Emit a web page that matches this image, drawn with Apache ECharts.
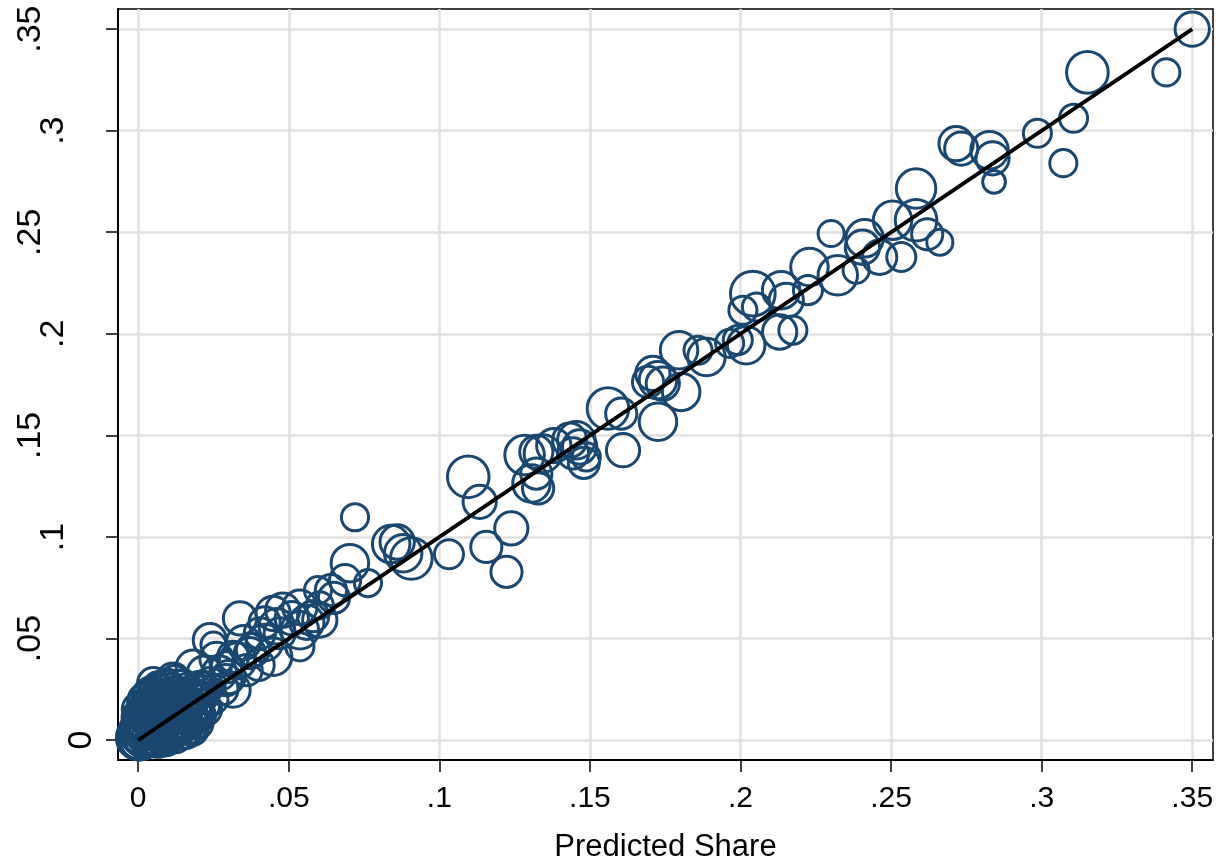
<!DOCTYPE html>
<html><head><meta charset="utf-8">
<script src="https://cdn.jsdelivr.net/npm/echarts@6/dist/echarts.min.js"></script>
<style>html,body{margin:0;padding:0;background:#fff}#c{width:1219px;height:860px}</style>
</head><body><div id="c"></div>
<script>
// Predicted share (x), actual share (y), weight (marker area)
const predicted = [
0.350,0.3152,0.3414,0.3106,0.2986,0.3072,0.2716,0.2733,0.2827,0.2837,0.2842,
0.2583,0.2301,0.2505,0.2583,0.2412,0.2405,0.2462,0.2534,0.2662,0.2620,0.2384,0.2323,0.2229,0.2224,
0.2041,0.2135,0.2152,0.2008,0.2174,0.2130,0.2019,0.1991,0.1887,0.1964,0.2053,
0.1096,0.1134,0.1239,0.1156,0.1223,0.1032,0.0907,0.1283,0.1322,0.1306,0.1328,0.1322,0.1344,
0.1433,0.1466,0.1444,0.1488,0.1455,0.1610,0.1560,0.1604,0.1726,0.1693,0.1726,0.1709,0.1742,0.1803,0.1796,0.1859,
0.0840,0.0860,0.0880,0.1480,0.1380,
0.0720,0.0703,0.0687,0.0763,0.0597,0.0640,0.0603,0.0537,0.0480,0.0581,0.0560,0.0537,0.0603,0.0470,0.0537,
0.0448,0.0381,0.0360,0.0315,0.0293,0.0205,0.0338,0.0238,0.0448,0.0404,0.0371,0.0294,0.0183,0.0116,0.0050,
0.0238,0.0315,0.0194,0.0149,0.0250,0.0650,
0.0270,0.0330,0.0260,0.0350,0.0420,0.0300,0.0220,0.0400,0.0280,0.0460,0.0510,0.0420,
0.0000,0.0010,0.0005,0.0020,0.0030,0.0015,0.0040,0.0045,0.0030,0.0060,0.0055,0.0050,0.0075,0.0080,0.0070,
0.0085,0.0095,0.0100,0.0105,0.0115,0.0120,0.0125,0.0130,0.0140,0.0145,0.0155,0.0160,0.0170,0.0175,0.0185,
0.0200,0.0210,0.0025,0.0040,0.0065,0.0095,0.0120,0.0150,0.0020,0.0060,0.0090,0.0110,0.0030,0.0010,0.0160,
0.0190,0.0225,0.0230,0.0250,
0.0002,0.0008,0.0012,0.0018,0.0022,0.0028,0.0033,0.0036,0.0042,0.0047,0.0052,0.0058,0.0063,0.0068,0.0072,
0.0078,0.0083,0.0088,0.0092,0.0098,0.0103,0.0108,0.0113,0.0118,0.0123,0.0128,0.0133,0.0138,0.0143,0.0148,
0.0153,0.0158,0.0163,0.0168,0.0173,0.0178,0.0183,0.0188,0.0195,0.0205,0.0215,0.0220,0.0006,0.0013,0.0019,
0.0026,0.0034,0.0044,0.0054,0.0064,0.0074,0.0084,0.0104,0.0134,0.0003,0.0007,0.0015,0.0025,0.0065,0.0090,
0.0125,0.0145,0.0180
];
const actual = [
0.350,0.3287,0.3287,0.3061,0.2987,0.2840,0.2936,0.2912,0.2904,0.2864,0.2748,
0.2715,0.2494,0.2559,0.2559,0.2470,0.2426,0.2377,0.2378,0.2451,0.2490,0.2313,0.2288,0.2329,0.2215,
0.2198,0.2215,0.2165,0.2116,0.2018,0.2009,0.1944,0.1969,0.1886,0.1953,0.2132,
0.1296,0.1173,0.1042,0.0951,0.0828,0.0915,0.0894,0.1403,0.1419,0.1263,0.1239,0.1312,0.1411,
0.1476,0.1443,0.1411,0.1394,0.1476,0.1427,0.1632,0.1607,0.1567,0.1763,0.1772,0.1805,0.1755,0.1714,0.1919,0.1919,
0.0965,0.0975,0.0920,0.1365,0.1450,
0.1097,0.0871,0.0787,0.0773,0.0738,0.0738,0.0664,0.0654,0.0640,0.0610,0.0580,0.0541,0.0591,0.0526,0.0459,
0.0410,0.0443,0.0344,0.0410,0.0295,0.0262,0.0599,0.0492,0.0624,0.0526,0.0428,0.0359,0.0359,0.0295,0.0280,
0.0280,0.0246,0.0131,0.0197,0.0470,0.0700,
0.0330,0.0390,0.0400,0.0480,0.0480,0.0310,0.0330,0.0370,0.0250,0.0560,0.0600,0.0580,
0.0000,0.0030,0.0080,0.0010,0.0060,0.0130,0.0020,0.0100,0.0170,0.0050,0.0140,0.0200,0.0020,0.0090,0.0180,
0.0230,0.0050,0.0130,0.0200,0.0030,0.0090,0.0160,0.0240,0.0060,0.0120,0.0190,0.0030,0.0100,0.0230,0.0160,
0.0080,0.0200,0.0220,0.0250,0.0270,0.0280,0.0300,0.0280,0.0040,0.0100,0.0170,0.0060,0.0120,0.0180,0.0150,
0.0260,0.0150,0.0260,0.0200,
0.0012,0.0005,0.0050,0.0025,0.0090,0.0035,0.0140,0.0075,0.0045,0.0165,0.0080,0.0025,0.0120,0.0060,0.0150,
0.0040,0.0110,0.0200,0.0075,0.0150,0.0040,0.0105,0.0175,0.0130,0.0060,0.0200,0.0100,0.0150,0.0220,0.0080,
0.0130,0.0250,0.0180,0.0120,0.0060,0.0200,0.0100,0.0140,0.0220,0.0120,0.0170,0.0240,0.0150,0.0100,0.0200,
0.0160,0.0230,0.0190,0.0230,0.0200,0.0250,0.0270,0.0250,0.0270,0.0040,0.0110,0.0070,0.0120,0.0005,0.0010,
0.0015,0.0040,0.0050
];
const weight = [
10.9,16.0,6.8,7.3,7.3,6.8,10.9,10.2,13.0,10.2,4.8,
14.4,6.3,13.7,16.0,13.0,10.9,10.9,7.8,6.3,9.0,6.3,14.4,13.0,7.8,
18.5,13.0,10.9,7.3,7.3,10.9,13.0,7.8,13.0,7.3,7.3,
16.0,10.2,10.2,9.0,9.0,7.8,16.0,14.4,10.2,13.0,9.0,9.0,13.0,
10.9,10.9,9.0,7.3,13.0,10.2,16.0,9.0,13.0,9.0,13.0,10.9,10.2,13.0,13.0,7.3,
13.0,10.9,13.0,9.0,10.9,
6.8,13.0,9.0,6.8,6.8,9.0,6.8,10.9,10.9,9.0,10.9,13.0,10.9,9.0,7.3,
13.0,10.2,9.0,9.0,9.0,9.0,10.2,10.2,10.9,9.0,9.0,9.0,10.9,10.9,9.0,
9.0,10.9,10.9,9.0,5.8,9.0,
10.9,12.3,10.2,10.9,12.3,10.2,10.9,9.0,9.0,11.6,10.2,9.0,
13.0,16.0,11.6,14.4,13.0,9.0,11.6,14.4,9.0,13.0,10.2,7.8,10.2,14.4,9.0,
7.8,11.6,13.0,9.0,9.0,11.6,10.2,7.8,9.0,11.6,9.0,7.8,10.2,9.0,10.2,
7.8,7.8,6.8,5.8,6.8,7.8,6.8,6.8,9.0,7.8,6.8,6.8,6.8,6.8,6.8,
7.8,9.0,9.0,7.8,
18.5,16.0,14.4,17.6,13.0,16.0,11.6,14.4,18.5,10.9,13.0,14.4,16.0,11.6,13.0,
16.0,12.3,10.2,14.4,11.6,13.0,16.0,10.9,13.0,11.6,10.2,14.4,11.6,9.0,12.3,
10.9,9.0,11.6,13.0,9.0,10.2,9.0,10.9,9.0,9.0,10.2,9.0,11.6,13.0,9.0,
10.2,8.4,9.0,8.4,9.0,7.8,8.4,9.0,8.4,15.2,12.3,14.4,12.3,12.3,11.6,
9.0,10.2,9.0
];
const refLine = [[0, 0], [0.35, 0.35]];
const xTicks = [0, 0.05, 0.1, 0.15, 0.2, 0.25, 0.3, 0.35];
const xTickLabels = ['0', '.05', '.1', '.15', '.2', '.25', '.3', '.35'];
const yTicks = [0, 0.05, 0.1, 0.15, 0.2, 0.25, 0.3, 0.35];
const yTickLabels = ['0', '.05', '.1', '.15', '.2', '.25', '.3', '.35'];
const xTitle = 'Predicted Share';

const FONT = '"Liberation Sans", Arial, Helvetica, sans-serif';
const NAVY = '#1a476f';
function lab(ticks, labels, v) {
  let best = 0;
  ticks.forEach((t, i) => { if (Math.abs(t - v) < Math.abs(ticks[best] - v)) best = i; });
  return labels[best];
}
const chart = echarts.init(document.getElementById('c'), null, {renderer: 'canvas'});
const yRich = {};
[[1, 0], [2, 28], [3, 51]].forEach(([n, p]) => {
  yRich['l' + n] = {fontSize: 34, fontFamily: FONT, color: '#000', padding: [0, 0, p, 0]};
});
chart.setOption({
  animation: false,
  backgroundColor: '#fff',
  grid: {left: 118, right: 6, top: 9, bottom: 100, show: true, borderColor: '#000', borderWidth: 1.5,
         containLabel: false, outerBoundsMode: 'none'},
  xAxis: {
    type: 'value', min: -0.0067, max: 0.3569,
    name: xTitle, nameLocation: 'middle', nameGap: 72,
    nameTextStyle: {fontSize: 31, fontFamily: FONT, color: '#000'},
    axisLine: {show: true, onZero: false, lineStyle: {color: '#000', width: 2}},
    axisTick: {show: true, inside: false, length: 12, customValues: xTicks, lineStyle: {color: '#000', width: 1.5}},
    axisLabel: {customValues: xTicks, margin: 24, fontSize: 30, fontFamily: FONT, color: '#000',
      formatter: v => lab(xTicks, xTickLabels, v)},
    splitLine: {show: true, lineStyle: {color: '#e0e0e0', width: 2.5}}
  },
  yAxis: {
    type: 'value', min: -0.0098, max: 0.3599,
    axisLine: {show: true, onZero: false, lineStyle: {color: '#000', width: 2}},
    axisTick: {show: true, inside: false, length: 12, customValues: yTicks, lineStyle: {color: '#000', width: 1.5}},
    axisLabel: {customValues: yTicks, margin: 19, rotate: 90, fontSize: 34, fontFamily: FONT, color: '#000',
      formatter: v => { const s = lab(yTicks, yTickLabels, v); return '{l' + s.length + '|' + s + '}'; },
      rich: yRich},
    splitLine: {show: true, lineStyle: {color: '#e0e0e0', width: 2.5}}
  },
  series: [
    {
      type: 'scatter', z: 2, silent: true,
      data: predicted.map((x, i) => [x, actual[i], weight[i]]),
      symbol: 'circle',
      symbolSize: v => Math.sqrt(v[2]) * 10.4,
      itemStyle: {color: 'rgba(0,0,0,0)', borderColor: NAVY, borderWidth: 3, opacity: 1}
    },
    {
      type: 'line', z: 3, silent: true, data: refLine, symbol: 'none',
      lineStyle: {color: '#000', width: 3.8}
    }
  ]
});
</script>
</body></html>
